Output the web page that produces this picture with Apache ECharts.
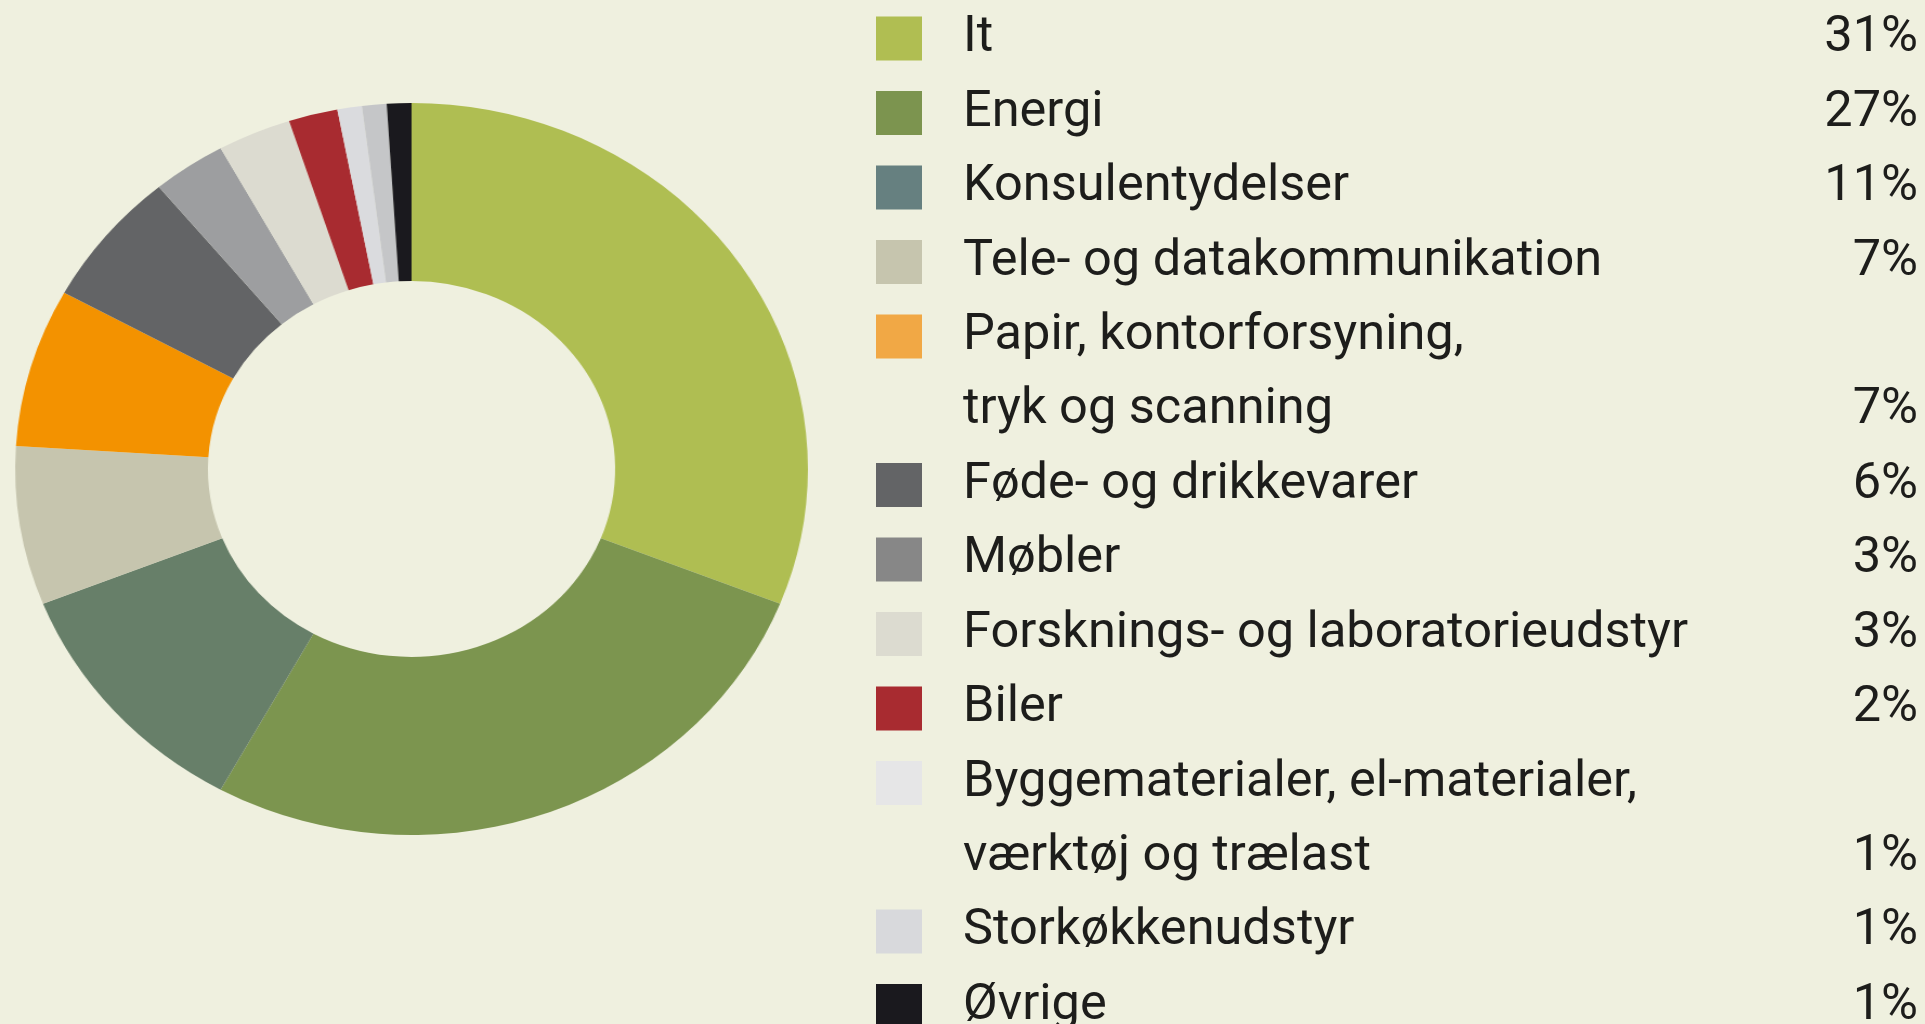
<!DOCTYPE html>
<html><head><meta charset="utf-8">
<script src="https://cdn.jsdelivr.net/npm/echarts@6/dist/echarts.min.js"></script>
<style>
html,body{margin:0;padding:0;width:1925px;height:1024px;overflow:hidden;background:#eff0df;}
#pie{position:absolute;left:0;top:0;width:800px;height:1024px;transform:scaleX(1.083);transform-origin:0 0;}
#legend{position:absolute;left:860px;top:0;width:1065px;height:1200px;}
</style></head><body>
<div id="pie"></div><div id="legend"></div>
<script>
// ---- data ----
const categories = ['It', 'Energi', 'Konsulentydelser', 'Tele- og datakommunikation',
  'Papir, kontorforsyning,\ntryk og scanning', 'Føde- og drikkevarer', 'Møbler',
  'Forsknings- og laboratorieudstyr', 'Biler', 'Byggematerialer, el-materialer,\nværktøj og trælast',
  'Storkøkkenudstyr', 'Øvrige'];
const shares = [31, 27, 11, 7, 7, 6, 3, 3, 2, 1, 1, 1];
// ---- styles ----
const sliceColors = ['#afbe52', '#7c954f', '#677f69', '#c6c5ae', '#f39200', '#636466',
  '#9d9ea0', '#dcdbd0', '#a82b30', '#dadbde', '#c5c6c8', '#1a191e'];
const legendColors = ['#b0be52', '#7c944f', '#668080', '#c6c5ae', '#f1a845', '#636466',
  '#878787', '#dcdbd0', '#a82b30', '#e6e6e7', '#d8d9dc', '#1a191e'];
const FONT = 'Roboto';
const FS = 50.5;
const ROW = 74;
const TXT = '#1d1d1b';

const pieChart = echarts.init(document.getElementById('pie'));
pieChart.setOption({
  animation: false,
  backgroundColor: 'transparent',
  series: [{
    type: 'pie',
    center: [380, 469],
    radius: [188, 366],
    startAngle: 90,
    clockwise: true,
    silent: true,
    label: { show: false },
    labelLine: { show: false },
    itemStyle: { borderWidth: 0 },
    emphasis: { disabled: true },
    data: categories.map((n, i) => ({ name: n, value: shares[i], itemStyle: { color: sliceColors[i] } }))
  }]
});

const legendChart = echarts.init(document.getElementById('legend'));
legendChart.setOption({
  animation: false,
  backgroundColor: 'transparent',
  legend: {
    orient: 'vertical',
    left: 16,
    top: 13,
    padding: 0,
    itemGap: ROW - FS,
    itemWidth: 46,
    itemHeight: 44,
    icon: 'rect',
    selectedMode: false,
    itemStyle: { borderWidth: 0 },
    textStyle: {
      fontFamily: FONT, fontSize: FS, color: TXT, padding: [0, 0, 0, 36],
      rich: {
        n: { width: 835, fontFamily: FONT, fontSize: FS, lineHeight: ROW, color: TXT },
        p: { width: 120, align: 'right', fontFamily: FONT, fontSize: FS, lineHeight: ROW, color: TXT }
      }
    },
    formatter: function (name) {
      const i = categories.indexOf(name);
      const lines = name.split('\n');
      return lines.map((l, k) => '{n|' + l + '}' + (k === lines.length - 1 ? '{p|' + shares[i] + '%}' : '')).join('\n');
    },
    data: categories.map((n, i) => {
      const d = { name: n, itemStyle: { color: legendColors[i], opacity: 1 } };
      if (n.indexOf('\n') >= 0) d.textStyle = { padding: [ROW, 0, 0, 36] };
      return d;
    })
  },
  series: [{
    type: 'pie',
    radius: [0, 0],
    center: [500, 500],
    silent: true,
    label: { show: false },
    labelLine: { show: false },
    data: categories.map((n, i) => ({ name: n, value: shares[i], itemStyle: { color: legendColors[i] } }))
  }]
});
</script>
</body></html>
